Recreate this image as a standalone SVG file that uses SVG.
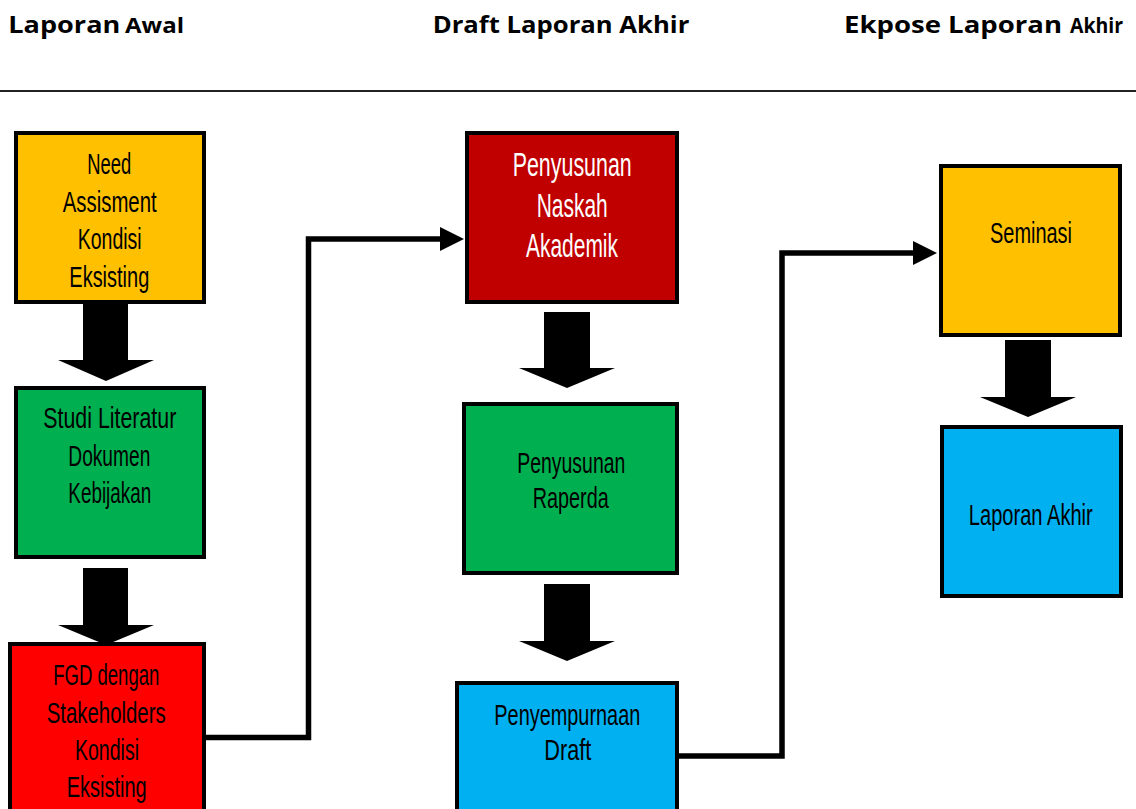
<svg xmlns="http://www.w3.org/2000/svg" width="1136" height="809" viewBox="0 0 1136 809">
<defs>
<style>
.hdr{font-family:"Open Sans","Liberation Sans",sans-serif;font-weight:bold;fill:#000}
.box{stroke:#000;stroke-width:4}
.lbl{font-family:"Liberation Sans","DejaVu Sans",sans-serif;fill:#000}
.w{fill:#fff}
.conn{fill:none;stroke:#000;stroke-width:5.5;stroke-linejoin:miter}
.blk{fill:#000}
</style>
<marker id="ah" markerUnits="userSpaceOnUse" markerWidth="24" markerHeight="24" viewBox="0 0 24 24" refX="1" refY="12" orient="auto">
<path d="M0,0 L24,12 L0,24 z" fill="#000"/>
</marker>
</defs>
<rect width="1136" height="809" fill="#fff"/>

<g id="headers">
<text class="hdr" x="8.3" y="33.3" font-size="23.5" textLength="112" lengthAdjust="spacingAndGlyphs">Laporan</text>
<text class="hdr" x="125" y="33.3" font-size="21.5" textLength="59" lengthAdjust="spacingAndGlyphs">Awal</text>
<text class="hdr" x="432.7" y="33.3" font-size="24" textLength="256.6" lengthAdjust="spacingAndGlyphs">Draft Laporan Akhir</text>
<text class="hdr" x="844" y="33.3" font-size="24" textLength="218" lengthAdjust="spacingAndGlyphs">Ekpose Laporan</text>
<text class="hdr" x="1070" y="33.3" font-size="20.5" textLength="53" lengthAdjust="spacingAndGlyphs">Akhir</text>
<line x1="0" y1="91" x2="1136" y2="91" stroke="#222" stroke-width="2"/>
</g>

<g id="node-need-assisment">
<rect class="box" x="16" y="133" width="188" height="169" fill="#FFC000"/>
<text class="lbl" font-size="29" x="87.3" y="174" textLength="44" lengthAdjust="spacingAndGlyphs">Need</text>
<text class="lbl" font-size="29" x="62.7" y="211.7" textLength="94" lengthAdjust="spacingAndGlyphs">Assisment</text>
<text class="lbl" font-size="29" x="77.7" y="249" textLength="64" lengthAdjust="spacingAndGlyphs">Kondisi</text>
<text class="lbl" font-size="29" x="69.3" y="286.7" textLength="80" lengthAdjust="spacingAndGlyphs">Eksisting</text>
</g>

<g id="node-studi-literatur">
<rect class="box" x="16" y="388" width="188" height="169" fill="#00B050"/>
<text class="lbl" font-size="29" x="43.3" y="428.3" textLength="133" lengthAdjust="spacingAndGlyphs">Studi Literatur</text>
<text class="lbl" font-size="29" x="68.3" y="466" textLength="82" lengthAdjust="spacingAndGlyphs">Dokumen</text>
<text class="lbl" font-size="29" x="68.3" y="502.7" textLength="83" lengthAdjust="spacingAndGlyphs">Kebijakan</text>
</g>

<g id="node-fgd">
<rect class="box" x="10" y="644" width="194" height="200" fill="#FF0000"/>
<text class="lbl" font-size="29" x="53.3" y="685" textLength="106" lengthAdjust="spacingAndGlyphs">FGD dengan</text>
<text class="lbl" font-size="29" x="46.7" y="722.7" textLength="119" lengthAdjust="spacingAndGlyphs">Stakeholders</text>
<text class="lbl" font-size="29" x="75" y="760" textLength="64" lengthAdjust="spacingAndGlyphs">Kondisi</text>
<text class="lbl" font-size="29" x="66.7" y="797.3" textLength="80" lengthAdjust="spacingAndGlyphs">Eksisting</text>
</g>

<g id="node-naskah-akademik">
<rect class="box" x="467" y="133" width="210" height="169" fill="#C00000"/>
<text class="lbl w" font-size="33" x="512.7" y="176" textLength="119" lengthAdjust="spacingAndGlyphs">Penyusunan</text>
<text class="lbl w" font-size="33" x="536.7" y="216.7" textLength="71" lengthAdjust="spacingAndGlyphs">Naskah</text>
<text class="lbl w" font-size="33" x="526" y="257.3" textLength="92" lengthAdjust="spacingAndGlyphs">Akademik</text>
</g>

<g id="node-raperda">
<rect class="box" x="464" y="404" width="213" height="169" fill="#00B050"/>
<text class="lbl" font-size="30" x="517.3" y="472.7" textLength="108" lengthAdjust="spacingAndGlyphs">Penyusunan</text>
<text class="lbl" font-size="30" x="532.7" y="508.3" textLength="76" lengthAdjust="spacingAndGlyphs">Raperda</text>
</g>

<g id="node-penyempurnaan">
<rect class="box" x="457" y="683" width="220" height="160" fill="#00B0F0"/>
<text class="lbl" font-size="30" x="494.3" y="725" textLength="146" lengthAdjust="spacingAndGlyphs">Penyempurnaan</text>
<text class="lbl" font-size="30" x="544.3" y="760" textLength="47" lengthAdjust="spacingAndGlyphs">Draft</text>
</g>

<g id="node-seminasi">
<rect class="box" x="941" y="166" width="179" height="169" fill="#FFC000"/>
<text class="lbl" font-size="30" x="990" y="243.3" textLength="82" lengthAdjust="spacingAndGlyphs">Seminasi</text>
</g>

<g id="node-laporan-akhir">
<rect class="box" x="942" y="427" width="179" height="169" fill="#00B0F0"/>
<text class="lbl" font-size="30" x="0" y="0" text-anchor="middle" transform="translate(1030.8,525) scale(0.67,1)">Laporan Akhir</text>
</g>

<g id="connectors">
<polygon class="blk" points="83,304 128,304 128,360 154,360 106,381 58,360 83,360"/>
<polygon class="blk" points="83,568 128,568 128,625 154,625 106,645 58,625 83,625"/>
<polygon class="blk" points="544,312 590,312 590,368 615,368 567,388 519,368 544,368"/>
<polygon class="blk" points="544,584 590,584 590,641 615,641 567,661 519,641 544,641"/>
<polygon class="blk" points="1005,340 1051,340 1051,397 1076,397 1028,417 980,397 1005,397"/>
<path class="conn" d="M205,737.5 H308.5 V239 H441" marker-end="url(#ah)"/>
<path class="conn" d="M679,756 H782 V253 H914" marker-end="url(#ah)"/>
</g>
</svg>
